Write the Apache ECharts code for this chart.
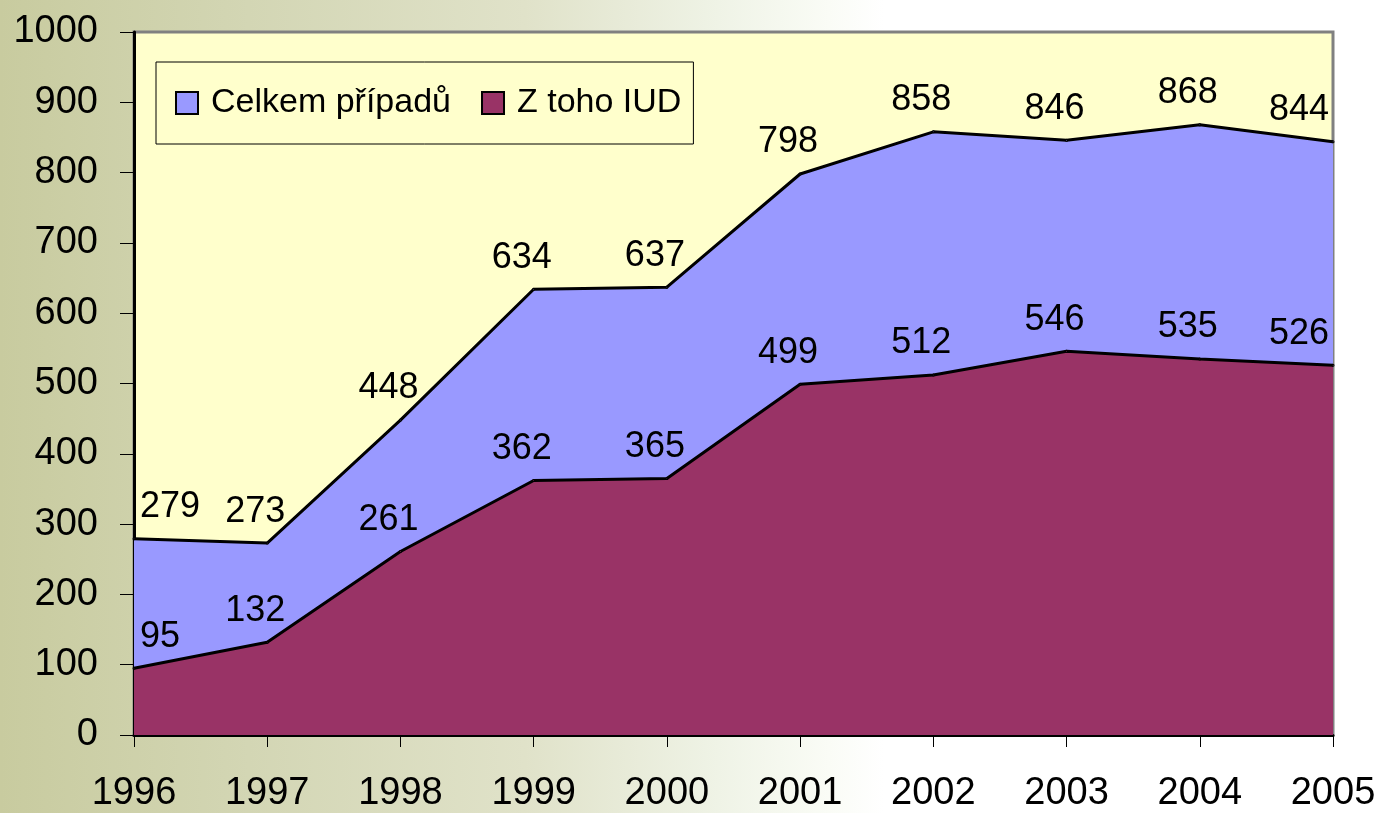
<!DOCTYPE html>
<html>
<head>
<meta charset="utf-8">
<script src="https://cdn.jsdelivr.net/npm/echarts@6/dist/echarts.min.js"></script>
<style>
  html, body { margin: 0; padding: 0; }
  body {
    width: 1381px; height: 813px;
    background: linear-gradient(to right, #c8cb9f 0%, #d3d6b4 18%, #e0e2c9 38%, #eff3e6 52%, #fafcf6 60%, #ffffff 64%, #ffffff 100%);
  }
  #main { width: 1381px; height: 813px; }
</style>
</head>
<body>
<div id="main"></div>
<script>
var years = ['1996', '1997', '1998', '1999', '2000', '2001', '2002', '2003', '2004', '2005'];
var celkem = [279, 273, 448, 634, 637, 798, 858, 846, 868, 844];
var iud = [95, 132, 261, 362, 365, 499, 512, 546, 535, 526];

var FONT = '"Liberation Sans", Arial, sans-serif';

// first label leans right, last leans left, like the original
function withLabels(arr) {
	return arr.map(function (v, i) {
		if (i === 0) return { value: v, label: { align: 'left', offset: [6, 0] } };
		if (i === arr.length - 1) return { value: v, label: { align: 'right', offset: [-4, 0] } };
		return v;
	});
}

var myChart = echarts.init(document.getElementById('main'));
myChart.setOption({
	backgroundColor: 'transparent',
	animation: false,
	textStyle: { fontFamily: FONT },
	grid: {
		left: 134,
		right: 48,
		top: 32,
		bottom: 77,
		show: true,
		backgroundColor: '#FFFFCC',
		borderColor: '#808080',
		borderWidth: 3
	},
	legend: {
		left: 156,
		top: 62,
		padding: [24, 12, 24, 19],
		backgroundColor: '#FFFFCC',
		borderColor: '#000',
		borderWidth: 1,
		itemWidth: 22,
		itemHeight: 22,
		itemGap: 30,
		icon: 'rect',
		textStyle: { fontSize: 34, color: '#000', fontFamily: FONT, padding: [0, 0, 0, 8] },
		data: ['Celkem případů', 'Z toho IUD']
	},
	xAxis: {
		type: 'category',
		data: years,
		boundaryGap: false,
		axisLine: { lineStyle: { color: '#000', width: 3 } },
		axisTick: { show: true, length: 12, lineStyle: { color: '#000', width: 1 } },
		axisLabel: { fontSize: 38, color: '#000', margin: 40, fontFamily: FONT },
		splitLine: { show: false }
	},
	yAxis: {
		type: 'value',
		min: 0,
		max: 1000,
		interval: 100,
		axisLine: { show: true, lineStyle: { color: '#000', width: 3 } },
		axisTick: { show: true, length: 14, lineStyle: { color: '#000', width: 1 } },
		axisLabel: { fontSize: 38, color: '#000', margin: 36, fontFamily: FONT, formatter: function (v) { return String(v); } },
		splitLine: { show: false }
	},
	series: [{
		name: 'Celkem případů',
		type: 'line',
		data: withLabels(celkem),
		symbol: 'circle',
		symbolSize: 1,
		showSymbol: true,
		lineStyle: { color: '#000', width: 3 },
		itemStyle: { color: '#9999FF', borderColor: '#000', borderWidth: 2 },
		areaStyle: { color: '#9999FF', opacity: 1 },
		label: { show: true, position: 'top', distance: 12, offset: [-12, 0], fontSize: 36, color: '#000', fontFamily: FONT },
		z: 2
	}, {
		name: 'Z toho IUD',
		type: 'line',
		data: withLabels(iud),
		symbol: 'circle',
		symbolSize: 1,
		showSymbol: true,
		lineStyle: { color: '#000', width: 3 },
		itemStyle: { color: '#993366', borderColor: '#000', borderWidth: 2 },
		areaStyle: { color: '#993366', opacity: 1 },
		label: { show: true, position: 'top', distance: 12, offset: [-12, 0], fontSize: 36, color: '#000', fontFamily: FONT },
		z: 3
	}]
});
</script>
</body>
</html>
